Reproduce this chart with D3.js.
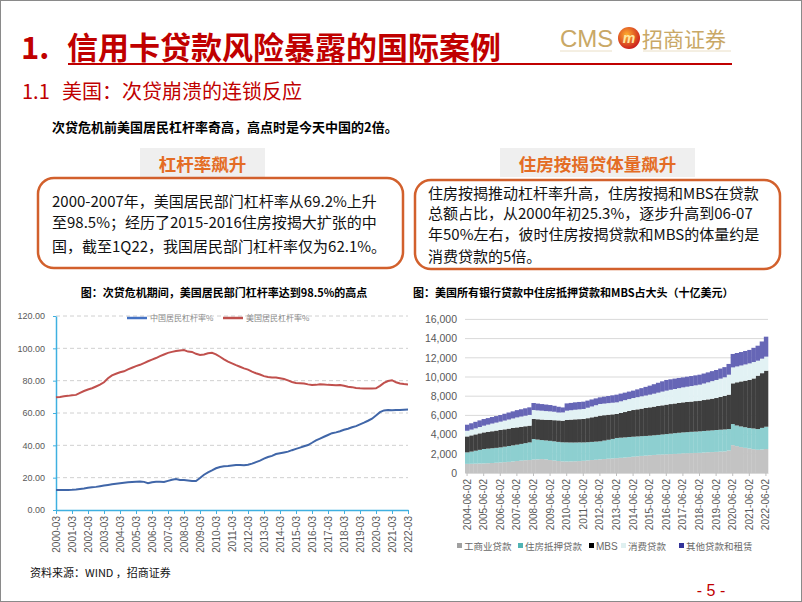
<!DOCTYPE html>
<html><head><meta charset="utf-8">
<script src="https://cdn.jsdelivr.net/npm/d3@7"></script>
<style>
html,body{margin:0;padding:0;background:#fff;}
svg{display:block;}
text{font-family:"Noto Sans CJK SC","Liberation Sans",sans-serif;}
.num{font-family:"Liberation Sans","Noto Sans CJK SC",sans-serif;}
</style></head><body>
<svg id="c" width="802" height="602"></svg>
<script>
// ---------------- DATA ----------------
// Left chart: household leverage ratio (%), quarterly 2000-03 .. 2022-03
const usLeverage = [69.7,69.9,70.3,70.6,71.0,71.2,72.5,73.6,74.5,75.3,76.4,77.5,79.0,81.5,83.3,84.3,85.2,85.8,87.0,88.0,
  89.0,89.8,90.9,92.0,93.0,94.0,95.2,96.2,97.2,97.8,98.3,98.7,98.9,98.0,97.8,96.6,95.9,96.2,96.9,97.2,
  96.3,94.8,93.2,91.8,90.7,89.6,88.6,87.6,86.8,85.6,84.6,83.8,82.8,82.3,82.0,82.0,81.5,81.0,80.2,79.2,
  78.6,78.4,78.2,77.7,77.3,77.4,77.8,77.7,77.4,77.3,77.2,77.3,76.8,76.3,76.0,75.5,75.3,75.2,75.2,75.2,
  75.3,76.8,78.6,79.8,80.3,79.0,78.3,77.9,77.7];
const cnLeverage = [12.4,12.3,12.3,12.4,12.5,12.7,13.0,13.3,13.7,14.0,14.3,14.7,15.1,15.5,15.9,16.2,16.5,16.8,17.1,17.3,
  17.5,17.6,17.4,16.6,17.2,17.5,17.4,17.3,18.0,18.7,19.2,18.6,18.5,18.3,18.0,17.9,19.8,21.8,23.3,24.5,
  25.8,26.6,27.0,27.2,27.5,27.8,27.8,27.7,28.0,28.7,29.6,30.5,31.8,32.8,33.5,34.6,35.1,35.6,36.1,37.0,
  37.8,38.6,39.4,40.2,41.6,43.1,44.2,45.3,46.4,47.5,48.0,48.7,49.6,50.3,51.2,51.9,53.0,54.0,55.2,56.5,
  58.5,60.5,61.6,61.8,61.7,61.8,61.8,62.0,62.1];
const leftSeriesNames = ["中国居民杠杆率%","美国居民杠杆率%"];
const leftTickLabels = ["2000-03","2001-03","2002-03","2003-03","2004-03","2005-03","2006-03","2007-03","2008-03",
  "2009-03","2010-03","2011-03","2012-03","2013-03","2014-03","2015-03","2016-03","2017-03","2018-03",
  "2019-03","2020-03","2021-03","2022-03"];
const leftYTicks = [0,20,40,60,80,100,120];

// Right chart: US all commercial banks loans (billion USD), quarterly 2004-06 .. 2022-06
const rightSeriesNames = ["工商业贷款","住房抵押贷款","MBS","消费贷款","其他贷款和租赁"];
const ciLoans = [950,960,975,990,1000,1020,1040,1070,1100,1130,1160,1200,1250,1290,1330,1350,1400,1420,1450,1420,
  1350,1300,1250,1210,1200,1210,1220,1240,1270,1310,1350,1380,1420,1450,1490,1520,1550,1580,1610,1650,
  1700,1740,1780,1810,1850,1880,1910,1930,1950,1970,1990,2010,2050,2060,2070,2090,2100,2130,2160,2180,
  2200,2230,2250,2340,2900,2800,2700,2620,2550,2480,2420,2450,2500];
const mortgageLoans = [1200,1270,1345,1420,1500,1520,1540,1550,1570,1610,1650,1680,1700,1740,1780,1840,2140,2060,1980,1970,
  2000,2000,1990,1990,1990,1970,1960,1950,1920,1900,1890,1890,1880,1930,1970,2030,2100,2100,2100,2100,
  2080,2070,2060,2050,2040,2050,2060,2090,2110,2130,2160,2180,2180,2200,2220,2220,2240,2250,2250,2260,
  2280,2280,2290,2240,2200,2150,2150,2150,2140,2160,2160,2250,2320];
const mbsHoldings = [1660,1690,1700,1720,1730,1750,1770,1800,1810,1810,1810,1810,1800,1780,1760,1740,2090,2120,2140,2150,
  2170,2200,2240,2250,2330,2380,2410,2420,2440,2500,2560,2610,2670,2640,2610,2560,2500,2570,2640,2710,
  2780,2820,2860,2910,2950,2980,3010,3030,3060,3080,3090,3110,3130,3140,3150,3180,3190,3220,3260,3300,
  3330,3410,3500,3580,4240,4500,4690,4850,5000,5210,5560,5700,5840];
const consumerLoans = [590,600,630,660,700,750,800,830,870,910,950,990,1040,1070,1100,1120,930,920,920,910,
  900,880,820,860,970,980,1000,1020,1040,1090,1130,1180,1220,1210,1210,1210,1210,1220,1240,1240,
  1250,1270,1290,1300,1320,1350,1390,1430,1460,1490,1510,1540,1560,1590,1620,1640,1670,1720,1770,1830,
  1880,1910,1930,2080,1660,1650,1660,1690,1730,1710,1560,1510,1460];
const otherLoans = [630,660,680,690,690,680,680,680,690,710,730,740,760,760,770,790,730,710,690,680,
  660,620,600,520,760,760,770,770,760,740,730,710,690,720,740,770,800,800,780,780,
  770,810,850,900,940,990,1030,1070,1110,1090,1080,1060,1040,1040,1040,1040,1040,1040,1040,1040,
  1040,1050,1060,1120,1400,1400,1400,1400,1400,1480,1560,1790,2080];
const rightTickLabels = ["2004-06-02","2005-06-02","2006-06-02","2007-06-02","2008-06-02","2009-06-02","2010-06-02",
  "2011-06-02","2012-06-02","2013-06-02","2014-06-02","2015-06-02","2016-06-02","2017-06-02","2018-06-02",
  "2019-06-02","2020-06-02","2021-06-02","2022-06-02"];
const rightYTicks = [0,2000,4000,6000,8000,10000,12000,14000,16000];

// ---------------- DRAW ----------------
const svg = d3.select("#c");
svg.append("rect").attr("x",0.5).attr("y",0.5).attr("width",801).attr("height",601)
  .attr("fill","#fff").attr("stroke","#8a8a8a");

const RED = "#c00000";
// Title
svg.append("text").attr("x",21).attr("y",59).attr("font-size",31).attr("font-weight","bold").attr("fill",RED).text("1.");
svg.append("text").attr("x",67).attr("y",59).attr("font-size",31).attr("font-weight","bold").attr("fill",RED).text("信用卡贷款风险暴露的国际案例");
svg.append("line").attr("x1",68).attr("x2",732).attr("y1",64).attr("y2",64).attr("stroke",RED).attr("stroke-width",2);

// Logo
const defs = svg.append("defs");
const rg = defs.append("radialGradient").attr("id","lg").attr("cx","40%").attr("cy","35%").attr("r","70%");
rg.append("stop").attr("offset","0%").attr("stop-color","#ffb030");
rg.append("stop").attr("offset","100%").attr("stop-color","#c8161c");
svg.append("text").attr("class","num").attr("x",560).attr("y",47).attr("font-size",24).attr("fill","#c9a866").text("CMS");
svg.append("circle").attr("cx",629).attr("cy",38).attr("r",11).attr("fill","url(#lg)");
svg.append("text").attr("class","num").attr("x",629).attr("y",43).attr("text-anchor","middle").attr("font-size",14)
  .attr("font-style","italic").attr("font-weight","bold").attr("fill","#ffe7a0").text("m");
svg.append("text").attr("x",642).attr("y",47).attr("font-size",21).attr("fill","#c9a866").text("招商证券");
svg.append("line").attr("x1",560).attr("x2",612).attr("y1",51).attr("y2",51).attr("stroke","#eadfc6");
svg.append("line").attr("x1",643).attr("x2",731).attr("y1",51).attr("y2",51).attr("stroke","#eadfc6");

// Sub heading
svg.append("text").attr("x",22).attr("y",99).attr("font-size",20).attr("fill",RED).text("1.1");
svg.append("text").attr("x",62).attr("y",99).attr("font-size",20).attr("fill",RED).text("美国：次贷崩溃的连锁反应");
svg.append("text").attr("x",52).attr("y",132).attr("font-size",13).attr("font-weight","bold").attr("fill","#000")
  .text("次贷危机前美国居民杠杆率奇高，高点时是今天中国的2倍。");

// Boxes
const ORANGE = "#d2602c";
function box(x,y,w,h,hx,hw,title,lines,tx,baselines){
  svg.append("rect").attr("x",hx).attr("y",148).attr("width",hw).attr("height",29).attr("fill","#efefef");
  svg.append("text").attr("x",hx+hw/2).attr("y",171).attr("text-anchor","middle").attr("font-size",17.5)
    .attr("font-weight","bold").attr("fill","#e46c24").text(title);
  svg.append("rect").attr("x",x).attr("y",y).attr("width",w).attr("height",h).attr("rx",16)
    .attr("fill","none").attr("stroke",ORANGE).attr("stroke-width",2.5);
  lines.forEach((l,i)=>svg.append("text").attr("x",tx).attr("y",baselines[i]).attr("font-size",15).attr("fill","#111").text(l));
}
box(38,178,365,90,140,125,"杠杆率飙升",
  ["2000-2007年，美国居民部门杠杆率从69.2%上升","至98.5%；经历了2015-2016住房按揭大扩张的中","国，截至1Q22，我国居民部门杠杆率仅为62.1%。"],
  52,[207,228,252]);
box(415,180,365,89,500,195,"住房按揭贷体量飙升",
  ["住房按揭推动杠杆率升高，住房按揭和MBS在贷款","总额占比，从2000年初25.3%，逐步升高到06-07","年50%左右，彼时住房按揭贷款和MBS的体量约是","消费贷款的5倍。"],
  428,[199,219,240,262]);

// ---------- Left chart ----------
svg.append("text").attr("x",224).attr("y",297).attr("text-anchor","middle").attr("font-size",11).attr("font-weight","bold")
  .text("图：次贷危机期间，美国居民部门杠杆率达到98.5%的高点");
const leftQuarters = [];
for(let y=2000;y<=2022;y++){ for(const m of ["03","06","09","12"]){ if(leftQuarters.length<usLeverage.length) leftQuarters.push(y+"-"+m);} }
const lx = d3.scalePoint().domain(leftQuarters).range([56,408]);
const ly = d3.scaleLinear().domain([0,120]).range([510,316]);
const gL = svg.append("g");
gL.selectAll("line.grid").data(leftYTicks.filter(d=>d>0)).join("line")
  .attr("x1",56).attr("x2",408).attr("y1",d=>ly(d)).attr("y2",d=>ly(d))
  .attr("stroke","#d0d0d0").attr("stroke-dasharray","4,3");
const AXB = "#3fb0e0";
const yAxL = gL.append("g").attr("transform","translate(56,0)")
  .call(d3.axisLeft(ly).tickValues(leftYTicks).tickFormat(d3.format(".2f")).tickSize(3).tickSizeOuter(0));
yAxL.select(".domain").attr("stroke",AXB).attr("stroke-width",1.5);
yAxL.selectAll(".tick line").attr("stroke",AXB);
yAxL.selectAll("text").attr("class","num").attr("font-size",9).attr("fill","#595959").attr("x",-11);
const xAxL = gL.append("g").attr("transform","translate(0,510)")
  .call(d3.axisBottom(lx).tickValues(leftTickLabels).tickSize(4).tickSizeOuter(0));
xAxL.select(".domain").attr("stroke",AXB).attr("stroke-width",1.5);
xAxL.selectAll(".tick line").attr("stroke",AXB);
xAxL.selectAll("text").attr("class","num").attr("font-size",10).attr("fill","#595959")
  .attr("transform","rotate(-90)").attr("text-anchor","end").attr("x",-6).attr("y",0).attr("dy","0.35em");
const line = d3.line().x((d,i)=>lx(leftQuarters[i])).y(d=>ly(d));
gL.append("path").datum(cnLeverage).attr("d",line).attr("fill","none").attr("stroke","#4066a8").attr("stroke-width",2);
gL.append("path").datum(usLeverage).attr("d",line).attr("fill","none").attr("stroke","#c0504d").attr("stroke-width",2);
// legend
const legL = [{n:leftSeriesNames[0],c:"#4472c4",x:127},{n:leftSeriesNames[1],c:"#c0504d",x:223}];
legL.forEach(l=>{
  gL.append("line").attr("x1",l.x).attr("x2",l.x+20).attr("y1",318).attr("y2",318).attr("stroke",l.c).attr("stroke-width",2.5);
  gL.append("text").attr("x",l.x+23).attr("y",321).attr("font-size",8).attr("fill","#8a8a8a").text(l.n);
});

// ---------- Right chart ----------
svg.append("text").attr("x",413).attr("y",297).attr("font-size",11).attr("font-weight","bold")
  .text("图：美国所有银行贷款中住房抵押贷款和MBS占大头（十亿美元）");
const rightQuarters = [];
const mons = ["06","09","12","03"];
for(let q=0;q<ciLoans.length;q++){
  const yr = 2004 + Math.floor(q/4) + (q%4===3?1:0);
  rightQuarters.push(yr+"-"+mons[q%4]+"-02");
}
const rows = rightQuarters.map((d,i)=>({date:d,
  [rightSeriesNames[0]]:ciLoans[i],[rightSeriesNames[1]]:mortgageLoans[i],[rightSeriesNames[2]]:mbsHoldings[i],
  [rightSeriesNames[3]]:consumerLoans[i],[rightSeriesNames[4]]:otherLoans[i]}));
const stack = d3.stack().keys(rightSeriesNames)(rows);
const rx = d3.scaleBand().domain(rightQuarters).range([465,768]).padding(0);
const ry = d3.scaleLinear().domain([0,16000]).range([473,319.4]);
const barColors = ["#c3c3c3","#8dcfd0","#3e3e3e","#e2f2f4","#6666b6"];
const legColors = ["#a0a0a0","#50b4b4","#000000","#dff0f0","#333399"];
const gR = svg.append("g");
gR.selectAll("line.grid").data(rightYTicks).join("line")
  .attr("x1",465).attr("x2",768).attr("y1",d=>ry(d)).attr("y2",d=>ry(d)).attr("stroke","#d9d9d9");
const yAxR = gR.append("g").attr("transform","translate(465,0)")
  .call(d3.axisLeft(ry).tickValues(rightYTicks).tickFormat(d3.format(",")).tickSize(0));
yAxR.select(".domain").remove();
yAxR.selectAll("text").attr("class","num").attr("font-size",10.5).attr("fill","#595959").attr("x",-8);
stack.forEach((s,k)=>{
  gR.append("g").selectAll("rect").data(s).join("rect")
    .attr("x",d=>rx(d.data.date)).attr("width",rx.bandwidth()+0.3)
    .attr("y",d=>ry(d[1])).attr("height",d=>ry(d[0])-ry(d[1]))
    .attr("fill",barColors[k]);
});
const xAxR = gR.append("g").attr("transform","translate(0,473)")
  .call(d3.axisBottom(rx).tickValues(rightTickLabels).tickSize(3).tickSizeOuter(0));
xAxR.select(".domain").attr("stroke","#d9d9d9");
xAxR.selectAll(".tick line").attr("stroke","#bfbfbf");
xAxR.selectAll("text").attr("class","num").attr("font-size",10).attr("fill","#595959")
  .attr("transform","rotate(-90)").attr("text-anchor","end").attr("x",-6).attr("y",0).attr("dy","0.35em");
const legX = [457,518,589,621,679];
rightSeriesNames.forEach((n,k)=>{
  gR.append("rect").attr("x",legX[k]).attr("y",543).attr("width",5).attr("height",5).attr("fill",legColors[k]);
  gR.append("text").attr("class",k===2?"num":null).attr("x",legX[k]+7).attr("y",549.5).attr("font-size",k===2?10:9.5)
    .attr("fill","#6a6a6a").text(n);
});

// Footer
svg.append("text").attr("x",30).attr("y",577).attr("font-size",11).attr("fill","#111").text("资料来源：WIND ，招商证券");
svg.append("text").attr("class","num").attr("x",711).attr("y",596).attr("text-anchor","middle").attr("font-size",16)
  .attr("fill",RED).text("- 5 -");
</script>
</body></html>
